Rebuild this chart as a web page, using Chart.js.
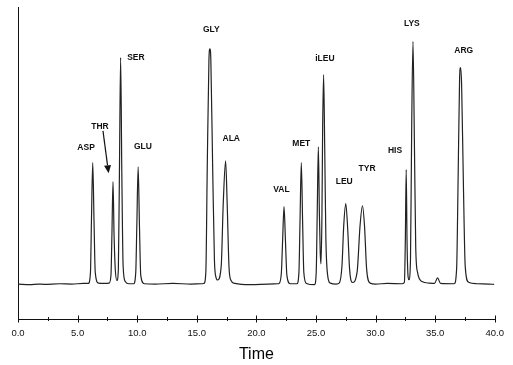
<!DOCTYPE html>
<html>
<head>
<meta charset="utf-8">
<script src="https://cdn.jsdelivr.net/npm/chart.js@4"></script>
<style>
  body { margin: 0; background: #fff; }
  canvas { display: block; }
</style>
</head>
<body>
<canvas id="myChart" width="513" height="365"></canvas>
<script>
// detector trace, time in minutes, signal above baseline
var traceTime = [
    0, 1.0, 1.7, 2.2, 3.5, 4.5, 5.5,
    5.9, 6.08, 6.16, 6.27, 6.38, 6.48, 6.75, 7.3,
    7.65, 7.8, 7.88, 7.97, 8.06, 8.16, 8.30,
    8.42, 8.51, 8.61, 8.71, 8.82, 9.0, 9.3,
    9.7, 9.88, 9.97, 10.08, 10.19, 10.3, 10.6,
    11.5, 13.0, 14.5, 15.4,
    15.6, 15.76, 15.88, 16.02, 16.1, 16.18, 16.33, 16.48, 16.6, 16.75,
    17.05, 17.22, 17.42, 17.55, 17.7, 17.85, 18.2,
    19.5, 21.0, 21.8,
    21.9, 22.1, 22.2, 22.32, 22.44, 22.56, 22.85,
    23.4, 23.57, 23.66, 23.77, 23.88, 23.98, 24.2, 24.88,
    25.02, 25.11, 25.2, 25.29, 25.36, 25.42,
    25.5, 25.56, 25.64, 25.73, 25.83, 25.98, 26.2, 26.7,
    26.95, 27.18, 27.33, 27.5, 27.66, 27.82, 28.06,
    28.45, 28.7, 28.9, 29.07, 29.25, 29.55,
    30.0, 31.0, 32.2,
    32.42, 32.5, 32.57, 32.64, 32.73, 32.8,
    32.93, 33.03, 33.14, 33.26, 33.37, 33.52, 33.9, 34.5,
    34.95, 35.2, 35.45,
    36.6, 36.8, 36.93, 37.05, 37.13, 37.22, 37.37, 37.52, 37.8, 38.5,
    39.5, 39.95
];
var traceSignal = [
    0.2, 0.0, 0.2, 0.1, 0.3, 0.2, 0.4,
    0.4, 4, 20, 39.1, 20, 4, 0.5, 0.4,
    0.5, 3, 16, 33.0, 16, 5, 1.3,
    5, 36, 72.8, 36, 6, 1, 0.3,
    0.3, 4, 19, 37.8, 19, 3, 0.3,
    0.2, 0.4, 0.2, 0.3,
    0.4, 4, 38, 72, 75.6, 72, 38, 8, 2.5, 1.5,
    6, 26, 39.7, 26, 6, 1.5, 0.4,
    0.0, 0.2, 0.3,
    0.4, 4, 14, 25.0, 14, 3, 0.3,
    0.3, 4, 20, 39.1, 20, 4, 0.4, 0.0,
    4, 24, 44.2, 22, 10, 6.7,
    22, 50, 67.3, 45, 15, 3, 0.5, 0.2,
    0.5, 6, 19, 26.0, 18, 5, 0.7,
    4, 19, 25.3, 19, 5, 0.5,
    0.2, 0.4, 0.3,
    0.8, 15, 36.9, 14, 2.5, 1.6,
    8, 50, 77.9, 45, 12, 4, 1, 0.5,
    0.4, 2.2, 0.4,
    0.3, 5, 35, 66, 69.6, 64, 32, 6, 0.8, 0.3,
    0.2, 0.1
];

// peak names and where their labels sit (time, signal)
var peakNames = ['ASP', 'THR', 'SER', 'GLU', 'GLY', 'ALA', 'VAL', 'MET', 'iLEU', 'LEU', 'TYR', 'HIS', 'LYS', 'ARG'];
var labelTime = [5.71, 6.88, 9.89, 10.48, 16.22, 17.89, 22.10, 23.77, 25.75, 27.37, 29.29, 31.63, 33.05, 37.4];
var labelLevel = [43.9, 50.6, 72.8, 44.2, 81.7, 46.8, 30.4, 45.2, 72.4, 33.0, 37.2, 42.9, 83.7, 75.0];

// THR arrow: from / to (time, signal)
var arrowFrom = [7.13, 49.3];
var arrowTo = [7.6, 35.7];

var xTickStep = 2.5;

var points = [];
for (var i = 0; i < traceTime.length; i++) {
    points.push({x: traceTime[i], y: traceSignal[i]});
}

var FONT = 'Liberation Sans, Arial, sans-serif';

// tick marks crossing the time axis
var axisTicks = {
    id: 'axisTicks',
    afterDraw: function (chart) {
        var xs = chart.scales.x;
        var ctx = chart.ctx;
        var y0 = xs.top;
        ctx.save();
        ctx.strokeStyle = '#111';
        ctx.lineWidth = 1;
        xs.ticks.forEach(function (t) {
            var px = Math.round(xs.getPixelForValue(t.value)) + 0.5;
            var len = (t.value % 5 === 0) ? 3.5 : 2;
            ctx.beginPath();
            ctx.moveTo(px, y0 - len);
            ctx.lineTo(px, y0 + len);
            ctx.stroke();
        });
        ctx.restore();
    }
};

// peak names and the THR arrow
var peakLabels = {
    id: 'peakLabels',
    afterDatasetsDraw: function (chart) {
        var xs = chart.scales.x, ys = chart.scales.y;
        var ctx = chart.ctx;
        ctx.save();
        ctx.fillStyle = '#111';
        ctx.font = 'bold 8.5px ' + FONT;
        ctx.textAlign = 'center';
        ctx.textBaseline = 'middle';
        for (var i = 0; i < peakNames.length; i++) {
            ctx.fillText(peakNames[i], xs.getPixelForValue(labelTime[i]), ys.getPixelForValue(labelLevel[i]));
        }
        var x1 = xs.getPixelForValue(arrowFrom[0]), y1 = ys.getPixelForValue(arrowFrom[1]);
        var x2 = xs.getPixelForValue(arrowTo[0]), y2 = ys.getPixelForValue(arrowTo[1]);
        var a = Math.atan2(y2 - y1, x2 - x1);
        var head = 8, half = 3.5;
        var bx = x2 - head * Math.cos(a), by = y2 - head * Math.sin(a);
        ctx.strokeStyle = '#111';
        ctx.lineWidth = 1.2;
        ctx.beginPath();
        ctx.moveTo(x1, y1);
        ctx.lineTo(bx, by);
        ctx.stroke();
        ctx.beginPath();
        ctx.moveTo(x2, y2);
        ctx.lineTo(bx + half * Math.sin(a), by - half * Math.cos(a));
        ctx.lineTo(bx - half * Math.sin(a), by + half * Math.cos(a));
        ctx.closePath();
        ctx.fill();
        ctx.restore();
    }
};

var ctx = document.getElementById('myChart').getContext('2d');
var myChart = new Chart(ctx, {
    type: 'line',
    data: {
        datasets: [{
            data: points,
            borderColor: '#222',
            borderWidth: 1.2,
            pointRadius: 0,
            fill: false,
            cubicInterpolationMode: 'monotone'
        }]
    },
    options: {
        responsive: false,
        animation: false,
        layout: {padding: {left: 18, right: 17, top: 7, bottom: 0}},
        plugins: {legend: {display: false}, tooltip: {enabled: false}},
        scales: {
            x: {
                type: 'linear',
                min: 0,
                max: 40,
                grid: {display: false, drawTicks: false},
                border: {display: true, color: '#111', width: 1},
                ticks: {
                    stepSize: xTickStep,
                    autoSkip: false,
                    maxRotation: 0,
                    padding: 9,
                    color: '#111',
                    font: {family: FONT, size: 9.5},
                    callback: function (v) { return v % 5 === 0 ? v.toFixed(1) : ''; }
                },
                title: {
                    display: true,
                    text: 'Time',
                    color: '#000',
                    font: {family: FONT, size: 16},
                    padding: {top: 0, bottom: 1}
                },
                afterFit: function (s) { s.height = 46; }
            },
            y: {
                min: -11,
                max: 89,
                grid: {display: false, drawTicks: false},
                border: {display: true, color: '#111', width: 1},
                ticks: {display: false},
                afterFit: function (s) { s.width = 0; }
            }
        }
    },
    plugins: [axisTicks, peakLabels]
});
</script>
</body>
</html>
